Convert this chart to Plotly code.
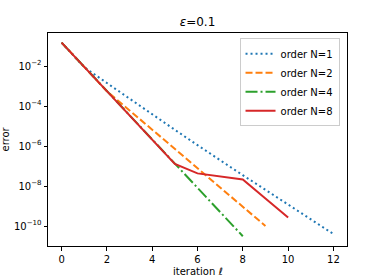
import plotly.graph_objects as go

iters_n1 = [0, 1, 2, 3, 4, 5, 6, 7, 8, 9, 10, 11, 12]
err_n1 = [1.48e-1, 8.71e-3, 1.41e-3, 2.29e-4, 3.80e-5, 6.46e-6, 1.10e-6,
          1.91e-7, 3.47e-8, 6.46e-9, 1.20e-9, 2.19e-10, 3.98e-11]

iters_n2 = [0, 1, 2, 3, 4, 5, 6, 7, 8, 9]
err_n2 = [1.48e-1, 8.91e-3, 5.50e-4, 6.03e-5, 6.46e-6, 7.08e-7, 7.76e-8,
          8.51e-9, 9.12e-10, 1.00e-10]

iters_n4 = [0, 1, 2, 3, 4, 5, 6, 7, 8]
err_n4 = [1.48e-1, 9.12e-3, 5.62e-4, 3.47e-5, 2.14e-6, 1.32e-7, 8.13e-9,
          5.01e-10, 3.09e-11]

iters_n8 = [0, 1, 2, 3, 4, 5, 6, 7, 8, 9, 10]
err_n8 = [1.48e-1, 8.91e-3, 5.50e-4, 3.39e-5, 2.04e-6, 1.26e-7, 4.27e-8,
          3.02e-8, 2.14e-8, 2.40e-9, 2.63e-10]

x_ticks = [0, 2, 4, 6, 8, 10, 12]
y_tickvals = [1e-2, 1e-4, 1e-6, 1e-8, 1e-10]
y_ticktext = ["10<sup>−2</sup>", "10<sup>−4</sup>", "10<sup>−6</sup>",
              "10<sup>−8</sup>", "10<sup>−10</sup>"]

series = [
    ("order N=1", iters_n1, err_n1, "#1f77b4", "2px,3px"),
    ("order N=2", iters_n2, err_n2, "#ff7f0e", "7px,3px"),
    ("order N=4", iters_n4, err_n4, "#2ca02c", "12px,3px,2px,3px"),
    ("order N=8", iters_n8, err_n8, "#d62728", "solid"),
]

fig = go.Figure()
for name, xs, ys, color, dash in series:
    fig.add_trace(go.Scatter(x=xs, y=ys, mode="lines", name=name,
                             line=dict(color=color, width=2, dash=dash)))

W, H = 386, 277
L, R, T, B = 48, 39, 33, 31
font = "DejaVu Sans, sans-serif"
fig.update_layout(
    width=W, height=H,
    margin=dict(l=L, r=R, t=T, b=B, autoexpand=False),
    paper_bgcolor="white", plot_bgcolor="white",
    font=dict(family=font, size=10, color="black"),
    title=dict(text="<i>ε</i>=0.1", x=0.5, xref="paper", xanchor="center",
               y=1 - 22 / H, yanchor="middle", font=dict(size=12)),
    showlegend=True,
    legend=dict(x=0.975, y=0.975, xanchor="right", yanchor="top",
                bgcolor="rgba(255,255,255,0.8)", bordercolor="#cccccc",
                borderwidth=1, font=dict(size=10), itemwidth=30,
                tracegroupgap=0),
    annotations=[
        dict(text="iteration <i>ℓ</i>", xref="paper", yref="paper",
             x=0.5, y=-(271 - (H - B)) / (H - T - B), xanchor="center",
             yanchor="middle", showarrow=False, font=dict(size=10)),
        dict(text="error", xref="paper", yref="paper",
             x=-(L - 5) / (W - L - R), y=0.5, xanchor="center",
             yanchor="middle", textangle=-90, showarrow=False,
             font=dict(size=10)),
    ],
)
fig.update_xaxes(range=[-0.6, 12.6], tickvals=x_ticks, ticks="outside",
                 ticklen=3.5, tickcolor="black", showline=True,
                 linecolor="black", linewidth=1, mirror=True, showgrid=False,
                 zeroline=False, automargin=False)
fig.update_yaxes(type="log", range=[-11.0, -0.35], tickvals=y_tickvals,
                 ticktext=y_ticktext, ticks="outside", ticklen=3.5,
                 tickcolor="black", showline=True, linecolor="black",
                 linewidth=1, mirror=True, showgrid=False, zeroline=False,
                 automargin=False)

fig.write_html("out.html", config={"displayModeBar": False},
               post_script="document.body.style.margin='0';"
                           "document.body.style.overflow='hidden';")
